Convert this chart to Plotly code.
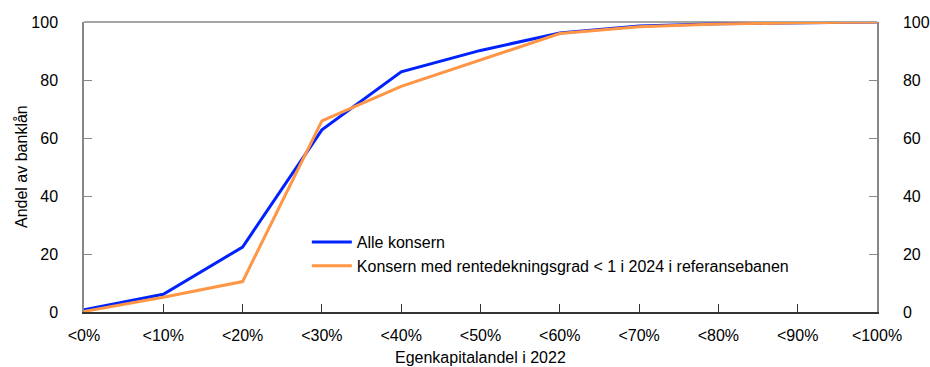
import plotly.graph_objects as go

categories = ["<0%", "<10%", "<20%", "<30%", "<40%", "<50%", "<60%", "<70%", "<80%", "<90%", "<100%"]
alle_konsern = [0.8, 6.1, 22.4, 62.8, 82.8, 90.2, 96.2, 98.6, 99.4, 99.8, 100.0]
konsern_rdg = [0.2, 5.1, 10.5, 65.9, 77.8, 86.8, 96.0, 98.4, 99.3, 99.7, 100.0]
series_names = ["Alle konsern", "Konsern med rentedekningsgrad < 1 i 2024 i referansebanen"]
y_ticks = [0, 20, 40, 60, 80, 100]
x_title = "Egenkapitalandel i 2022"
y_title = "Andel av banklån"

FONT = "Liberation Sans, Arial, sans-serif"
x_idx = list(range(len(categories)))

fig = go.Figure()
fig.add_trace(go.Scatter(x=x_idx, y=alle_konsern, mode="lines", name=series_names[0],
                         line=dict(color="#0022ff", width=3)))
fig.add_trace(go.Scatter(x=x_idx, y=konsern_rdg, mode="lines", name=series_names[1],
                         line=dict(color="#ff9645", width=3)))
# invisible helper trace for the right axis
fig.add_trace(go.Scatter(x=[x_idx[0]], y=[y_ticks[0]], yaxis="y2", mode="markers",
                         marker=dict(opacity=0), showlegend=False, hoverinfo="skip"))

fig.update_layout(
    width=930, height=367,
    margin=dict(l=84, r=53, t=22, b=55),
    paper_bgcolor="white", plot_bgcolor="white",
    font=dict(family=FONT, size=16, color="black"),
    showlegend=True,
    legend=dict(x=0.281, y=0.30, xanchor="left", yanchor="top",
                bgcolor="rgba(0,0,0,0)", font=dict(size=16), tracegroupgap=0,
                itemwidth=40),
    xaxis=dict(range=[0, len(categories) - 1], tickmode="array", tickvals=x_idx,
               ticktext=categories, ticks="inside", ticklen=8, tickcolor="#333333",
               showline=True, linecolor="#333333", linewidth=1.5, showgrid=False,
               zeroline=False, automargin=False, ticklabelstandoff=8,
               tickfont=dict(size=16)),
    yaxis=dict(range=[0, 100], tickvals=y_ticks, ticks="inside", ticklen=8,
               tickcolor="#888888", showline=True, linecolor="#888888", linewidth=1.5,
               showgrid=False, zeroline=False, automargin=False, ticklabelstandoff=21,
               tickfont=dict(size=16)),
    yaxis2=dict(range=[0, 100], tickvals=y_ticks, overlaying="y", side="right",
                ticks="inside", ticklen=8, tickcolor="#888888", showline=True,
                linecolor="#888888", linewidth=1.5, showgrid=False, zeroline=False,
                automargin=False, ticklabelstandoff=21, tickfont=dict(size=16)),
    shapes=[dict(type="line", xref="paper", yref="paper", x0=0, x1=1, y0=1, y1=1,
                 line=dict(color="#888888", width=1.5), layer="below")],
    annotations=[
        dict(text=x_title, xref="paper", yref="paper", x=0.5, y=0, xanchor="center",
             yanchor="middle", yshift=-45, showarrow=False, font=dict(size=16)),
        dict(text=y_title, xref="paper", yref="paper", x=0, y=0.5, xanchor="center",
             yanchor="middle", xshift=-63, textangle=-90, showarrow=False,
             font=dict(size=16)),
    ],
)

fig.write_html("out.html", config={"displayModeBar": False},
               post_script="document.body.style.margin='0';")
